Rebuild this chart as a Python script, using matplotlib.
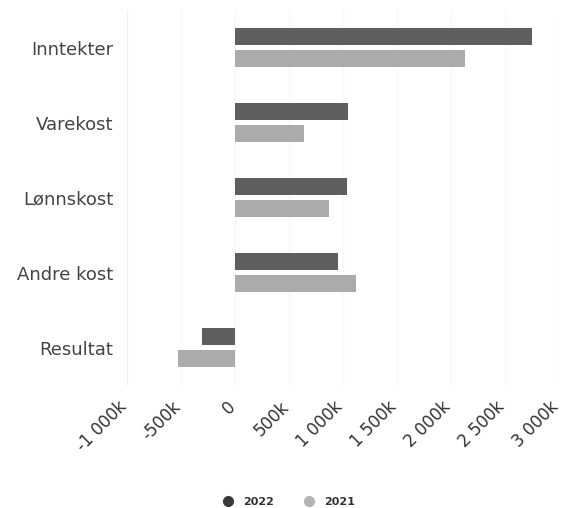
import matplotlib
matplotlib.use("Agg")
import matplotlib.pyplot as plt
from matplotlib.lines import Line2D
from matplotlib.transforms import ScaledTranslation
import numpy as np

categories = ["Inntekter", "Varekost", "Lønnskost", "Andre kost", "Resultat"]
values_2022 = [2756, 1043, 1034, 954, -309]
values_2021 = [2130, 639, 870, 1120, -531]
series_labels = ["2022", "2021"]
xticks = [-1000, -500, 0, 500, 1000, 1500, 2000, 2500, 3000]
xtick_labels = ["-1 000k", "-500k", "0", "500k", "1 000k", "1 500k", "2 000k", "2 500k", "3 000k"]

color_2022 = "#5f5f5f"
color_2021 = "#ababab"

fig = plt.figure(figsize=(5.63, 5.08), dpi=100)
ax = fig.add_axes([0.2256, 0.242, 0.767, 0.738])

y = np.arange(len(categories))
off = 0.143
h = 0.225
ax.barh(y - off, values_2022, height=h, color=color_2022, zorder=3)
ax.barh(y + off, values_2021, height=h, color=color_2021, zorder=3)

ax.set_ylim(len(categories) - 0.5, -0.5)
ax.set_xlim(-1000, 3000)
ax.set_yticks(y)
ax.set_yticklabels(categories, fontsize=13, color="#444444")
ax.set_xticks(xticks)
ax.set_xticklabels(xtick_labels, rotation=45, ha="right", rotation_mode="anchor",
                   fontsize=12, color="#333333")
ax.tick_params(axis="both", length=0)
ax.tick_params(axis="y", pad=10)
ax.tick_params(axis="x", pad=9)
shift = ScaledTranslation(-9 / 100, 0, fig.dpi_scale_trans)
for lab in ax.get_xticklabels():
    lab.set_transform(lab.get_transform() + shift)

ax.grid(axis="x", color="#f7f7f7", linewidth=1, zorder=0)
for s in ["top", "right", "bottom"]:
    ax.spines[s].set_visible(False)
ax.spines["left"].set_color("#f0f0f0")

handles = [Line2D([0], [0], marker="o", linestyle="", markersize=7, color="#3a3a3a"),
           Line2D([0], [0], marker="o", linestyle="", markersize=7, color="#b5b5b5")]
fig.legend(handles, series_labels, loc="center", bbox_to_anchor=(0.508, 0.012),
           ncol=2, frameon=False, prop={"size": 8, "weight": "bold"},
           handletextpad=0.3, columnspacing=2.2, labelcolor="#333333")

fig.savefig("out.png", dpi=100, facecolor="white")
